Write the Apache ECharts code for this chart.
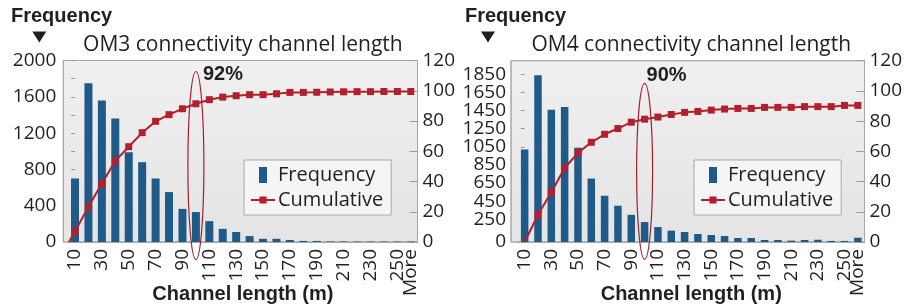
<!DOCTYPE html>
<html>
<head>
<meta charset="utf-8">
<script src="https://cdn.jsdelivr.net/npm/echarts@6/dist/echarts.min.js"></script>
<style>
  html, body { margin: 0; padding: 0; background: #fff; }
  #chart { width: 918px; height: 306px; }
</style>
</head>
<body>
<div id="chart"></div>
<script>
// channel length bins (m)
const categories = ['10', '20', '30', '40', '50', '60', '70', '80', '90', '100', '110', '120', '130',
  '140', '150', '160', '170', '180', '190', '200', '210', '220', '230', '240', '250', 'More']

// OM3
const om3Frequency = [700, 1750, 1560, 1360, 990, 880, 700, 550, 365, 330, 230, 145, 110,
  65, 35, 35, 22, 12, 12, 6, 6, 5, 5, 5, 5, 5]
const om3Cumulative = [7, 23.3, 38.7, 53.6, 63, 72.3, 79.8, 84.2, 88.1, 91.4, 94.1, 95.8, 96.7,
  97.4, 97.4, 98, 98.9, 98.9, 99, 99.2, 99.3, 99.4, 99.4, 99.5, 99.5, 99.5]
const om3LineStart = [-0.45, 0] // line starts from zero, left of the first bin
const om3FreqLabels = [0, 400, 800, 1200, 1600, 2000]

// OM4
const om4Frequency = [1020, 1840, 1460, 1490, 1040, 700, 510, 400, 300, 220, 165, 125, 110,
  88, 77, 66, 44, 44, 22, 22, 15, 22, 25, 12, 12, 47]
const om4Cumulative = [0, 18, 33, 49, 59, 66, 71.3, 75.1, 79.3, 81.3, 82.7, 84.4, 85.8,
  86.4, 87.3, 88, 88.4, 88.4, 89.1, 89.1, 89.1, 89.6, 89.6, 89.6, 90.4, 90.4]
const om4FreqLabels = [0, 250, 450, 650, 850, 1050, 1250, 1450, 1650, 1850]

const cumulativeTicks = [0, 20, 40, 60, 80, 100, 120]
const titles = ['OM3 connectivity channel length', 'OM4 connectivity channel length']
const marks = [{ category: '100', label: '92%' }, { category: '100', label: '90%' }]

const BLUE = '#1f5a88'
const RED = '#b41f2d'
const TEXT = '#231f20'
const FONT = '"Open Sans", sans-serif'
const BOLD = '"Liberation Sans", Arial, sans-serif'

// plot frames
const frames = [
  { frameLeft: 63.3, left: 68.3, right: 417.5, top: 60.5, bottom: 242, yOffset: 5 },
  { frameLeft: 511, left: 518, right: 864.5, top: 60.7, bottom: 242, yOffset: 7 }
]
const markLayout = [
  { cy: 165.5, ry: 94, dx: 7, ty: 74 },
  { cy: 171.3, ry: 88, dx: 2, ty: 75.5 }
]

const barIcon = 'path://M0,0M24,0M8,0L16,0L16,16L8,16Z'
const lineIcon = 'path://M0,0M24,16M0,7L24,7L24,9L0,9ZM8.5,4.5L15.5,4.5L15.5,11.5L8.5,11.5Z'

const axisFont = { fontFamily: FONT, fontSize: 19, color: TEXT }
const plain = v => String(v)
const lastIdx = categories.length - 1

const grids = frames.map(f => ({
  left: f.left,
  right: 918 - f.right,
  top: f.top,
  bottom: 306 - f.bottom,
  outerBoundsMode: 'none',
  containLabel: false
}))

const xAxes = []
frames.forEach((f, i) => {
  xAxes.push({
    type: 'category',
    gridIndex: i,
    data: categories,
    boundaryGap: true,
    axisLine: { lineStyle: { color: '#a8a8a8' } },
    axisTick: { alignWithLabel: true, length: 4, lineStyle: { color: '#999' } },
    axisLabel: {
      ...axisFont,
      rotate: 90,
      margin: 7,
      interval: (idx) => idx % 2 === 0 && idx !== lastIdx
    },
    name: 'Channel length (m)',
    nameLocation: 'middle',
    nameGap: 42,
    nameMoveOverlap: false,
    nameTextStyle: { fontFamily: BOLD, fontWeight: 'bold', fontSize: 20, color: TEXT }
  })
})
// value axes (index space) so the cumulative line can start between bins;
// also carry the last ("More") bin label
frames.forEach((f, i) => {
  xAxes.push({
    type: 'value', gridIndex: i, position: 'bottom',
    min: -0.5, max: lastIdx + 0.5,
    axisLine: { show: false },
    axisTick: { show: false },
    splitLine: { show: false },
    axisLabel: {
      ...axisFont, rotate: 90, margin: 7,
      customValues: [lastIdx],
      formatter: v => categories[Math.round(v)]
    }
  })
})

// OM4 frequency labels are tightly packed; split them over two overlaid axes
const om4LabelsA = om4FreqLabels.filter((v, k) => k % 2 === 0)
const om4LabelsB = om4FreqLabels.filter((v, k) => k % 2 === 1)

const yAxes = [
  {
    type: 'value', gridIndex: 0, position: 'left', offset: frames[0].yOffset,
    min: 0, max: 2000, interval: 200,
    splitLine: { show: false },
    axisLine: { show: false },
    axisTick: { show: true, length: 4, lineStyle: { color: '#999' } },
    axisLabel: { ...axisFont, margin: 7, formatter: plain, showMaxLabel: true, customValues: om3FreqLabels }
  },
  {
    type: 'value', gridIndex: 1, position: 'left', offset: frames[1].yOffset,
    min: 0, max: 2000,
    splitLine: { show: false },
    axisLine: { show: false },
    axisTick: { show: true, length: 4, customValues: om4FreqLabels, lineStyle: { color: '#999' } },
    axisLabel: { ...axisFont, margin: 5, formatter: plain, showMaxLabel: true, customValues: om4LabelsA }
  }
]
frames.forEach((f, i) => {
  yAxes.push({
    type: 'value', gridIndex: i, position: 'right',
    min: 0, max: 120, interval: 20,
    splitLine: { show: false },
    axisLine: { show: false },
    axisTick: { show: true, inside: true, length: 8, lineStyle: { color: '#999' } },
    axisLabel: { ...axisFont, margin: 5, formatter: plain, customValues: cumulativeTicks }
  })
})
yAxes.push({
  type: 'value', gridIndex: 1, position: 'left', offset: frames[1].yOffset,
  min: 0, max: 2000,
  splitLine: { show: false },
  axisLine: { show: false },
  axisTick: { show: false },
  axisLabel: { ...axisFont, margin: 5, formatter: plain, showMaxLabel: true, customValues: om4LabelsB }
})

const om3Line = [{ value: om3LineStart, symbol: 'none' }]
  .concat(om3Cumulative.map((v, i) => [i, v]))
const om4Line = om4Cumulative.map((v, i) => i === 0 ? { value: [i, v], symbol: 'none' } : [i, v])

const lineSeries = (data, i) => ({
  name: 'Cumulative',
  type: 'line',
  xAxisIndex: 2 + i,
  yAxisIndex: 2 + i,
  data: data,
  color: RED,
  symbol: 'rect',
  symbolSize: 7,
  lineStyle: { width: 2, color: RED },
  itemStyle: { color: RED },
  z: 5
})
const barSeries = (data, i) => ({
  name: 'Frequency',
  type: 'bar',
  xAxisIndex: i,
  yAxisIndex: i,
  data: data,
  barWidth: i === 0 ? 8 : 7.5,
  color: BLUE,
  itemStyle: { color: BLUE }
})

const legends = [244, 694].map(x => ({
  orient: 'vertical',
  left: x,
  top: 160,
  padding: [5, 8, 5, 7],
  itemGap: 5,
  itemWidth: 24,
  itemHeight: 16,
  backgroundColor: '#f5f5f5',
  borderColor: '#a8a8a8',
  borderWidth: 1,
  selectedMode: false,
  textStyle: { fontFamily: FONT, fontSize: 20, color: TEXT, padding: [0, 0, 0, -2] },
  itemStyle: { borderWidth: 0 },
  data: [
    { name: 'Frequency', icon: barIcon },
    { name: 'Cumulative', icon: lineIcon }
  ]
}))

const titleOpts = titles.map((t, i) => ({
  text: t,
  left: (frames[i].left + frames[i].right) / 2,
  top: 35,
  textAlign: 'center',
  padding: 0,
  textStyle: { fontFamily: FONT, fontSize: 21, fontWeight: 'normal', color: TEXT }
}))

const staticGraphics = []
frames.forEach((f, i) => {
  staticGraphics.push({
    type: 'rect',
    z: -10,
    shape: { x: f.frameLeft, y: f.top, width: f.right - f.frameLeft, height: f.bottom - f.top },
    style: {
      fill: new echarts.graphic.LinearGradient(0, 0, 0, 1, [
        { offset: 0, color: '#f0f0f0' },
        { offset: 1, color: '#e4e4e4' }
      ]),
      stroke: '#a8a8a8',
      lineWidth: 1
    }
  })
})
// "Frequency" heading with arrow
;[{ x: 11, ax: 39.3 }, { x: 465, ax: 488 }].forEach(h => {
  staticGraphics.push({
    type: 'text', x: h.x, y: 16, z: 10,
    style: { text: 'Frequency', fontFamily: BOLD, fontWeight: 'bold', fontSize: 20, fill: TEXT, verticalAlign: 'middle' }
  })
  staticGraphics.push({
    type: 'polygon', z: 10,
    shape: { points: [[h.ax - 7, 31.5], [h.ax + 7, 31.5], [h.ax, 42.5]] },
    style: { fill: TEXT }
  })
})

const option = {
  animation: false,
  backgroundColor: '#fff',
  title: titleOpts,
  legend: legends,
  grid: grids,
  xAxis: xAxes,
  yAxis: yAxes,
  series: [
    barSeries(om3Frequency, 0),
    lineSeries(om3Line, 0),
    barSeries(om4Frequency, 1),
    lineSeries(om4Line, 1)
  ],
  graphic: staticGraphics
}

const chart = echarts.init(document.getElementById('chart'))
chart.setOption(option)

// ellipse + percentage callouts around the 100 m bin
const markGraphics = marks.map((m, i) => {
  const cx = chart.convertToPixel({ xAxisIndex: i }, m.category)
  const L = markLayout[i]
  return [
    {
      type: 'ellipse', z: 20,
      shape: { cx: cx, cy: L.cy, rx: 8, ry: L.ry },
      style: { fill: 'none', stroke: '#a3202b', lineWidth: 1.2 }
    },
    {
      type: 'text', z: 20, x: cx + L.dx, y: L.ty,
      style: { text: m.label, fontFamily: BOLD, fontWeight: 'bold', fontSize: 20, fill: TEXT, verticalAlign: 'middle' }
    }
  ]
}).flat()

chart.setOption({ graphic: staticGraphics.concat(markGraphics) })
</script>
</body>
</html>
